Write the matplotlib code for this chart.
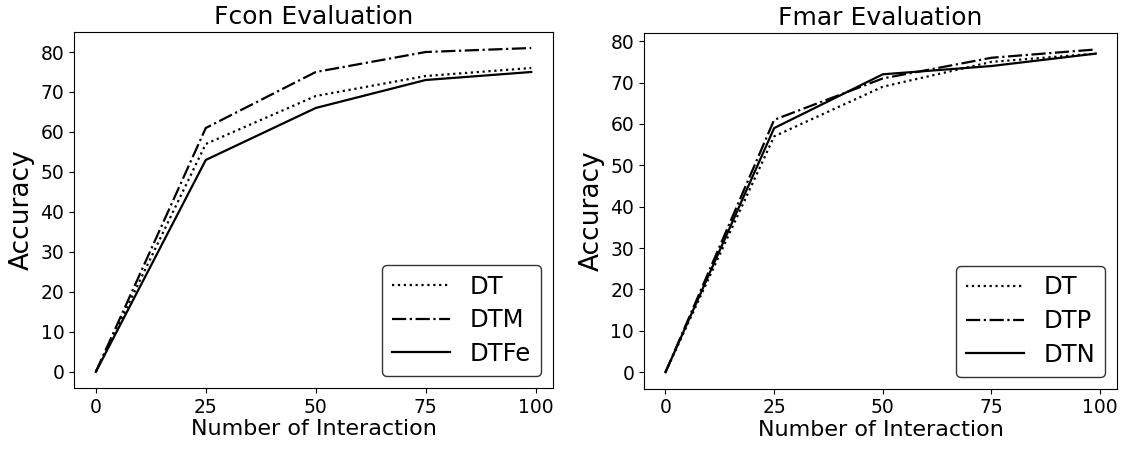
import matplotlib
matplotlib.use("Agg")
import matplotlib.pyplot as plt

# Data
steps = [0, 25, 50, 75, 99]

fcon_dt = [0, 57, 69, 74, 76]
fcon_dtm = [0, 61, 75, 80, 81]
fcon_dtfe = [0, 53, 66, 73, 75]

fmar_dt = [0, 57, 69, 75, 77]
fmar_dtp = [0, 61, 71, 76, 78]
fmar_dtn = [0, 59, 72, 74, 77]

fig = plt.figure(figsize=(11.27, 4.51), dpi=100)
ax1 = fig.add_axes([0.0657, 0.140, 0.425, 0.789])
ax2 = fig.add_axes([0.5714, 0.138, 0.420, 0.789])

# Left panel
ax1.plot(steps, fcon_dt, "k:", lw=1.6, label="DT")
ax1.plot(steps, fcon_dtm, "k-.", lw=1.6, label="DTM")
ax1.plot(steps, fcon_dtfe, "k-", lw=1.6, label="DTFe")
ax1.set_title("Fcon Evaluation", fontsize=18)
ax1.set_xlabel("Number of Interaction", fontsize=16, labelpad=2)
ax1.set_ylabel("Accuracy", fontsize=19)
ax1.set_xticks([0, 25, 50, 75, 100])
ax1.set_yticks(range(0, 90, 10))
ax1.set_ylim(-4, 85)
ax1.tick_params(labelsize=13.5)
ax1.legend(loc="lower right", fontsize=17.5, edgecolor="k", handlelength=2.4,
           labelspacing=0.4)

# Right panel
ax2.plot(steps, fmar_dt, "k:", lw=1.6, label="DT")
ax2.plot(steps, fmar_dtp, "k-.", lw=1.6, label="DTP")
ax2.plot(steps, fmar_dtn, "k-", lw=1.6, label="DTN")
ax2.set_title("Fmar Evaluation", fontsize=18)
ax2.set_xlabel("Number of Interaction", fontsize=16, labelpad=2)
ax2.set_ylabel("Accuracy", fontsize=19)
ax2.set_xticks([0, 25, 50, 75, 100])
ax2.set_yticks(range(0, 90, 10))
ax2.set_ylim(-4, 82)
ax2.tick_params(labelsize=13.5)
ax2.legend(loc="lower right", fontsize=17.5, edgecolor="k", handlelength=2.4,
           labelspacing=0.4)

fig.savefig("out.png", dpi=100)
